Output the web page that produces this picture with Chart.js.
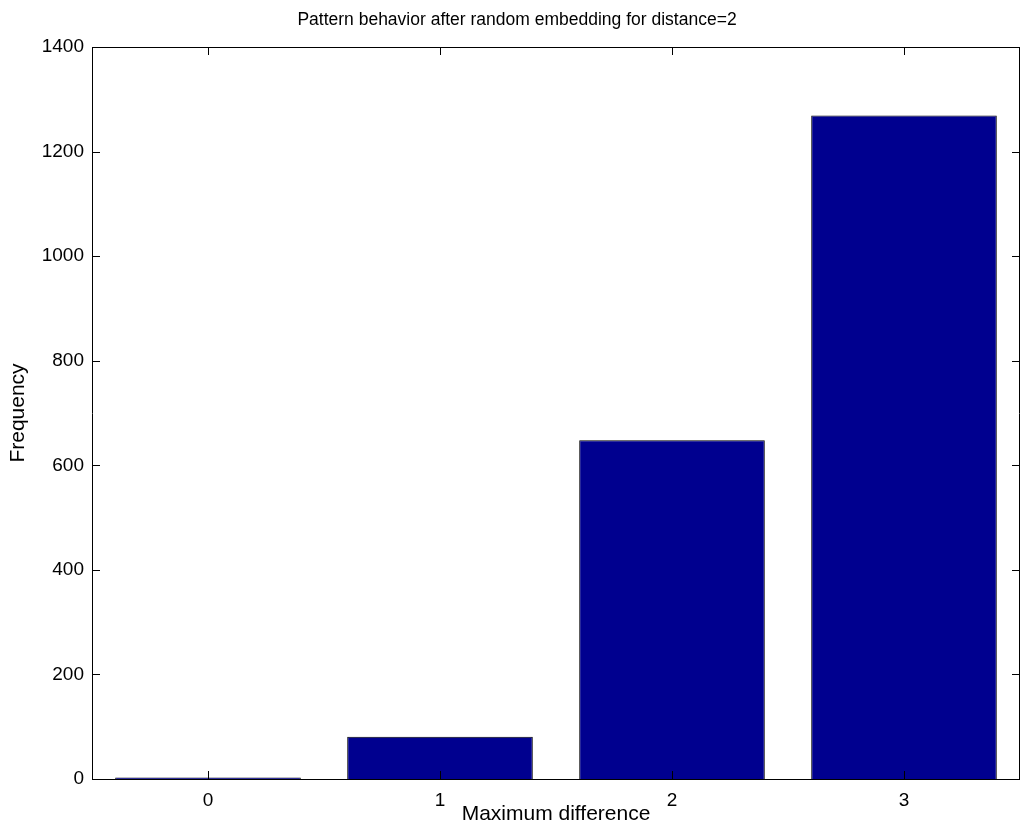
<!DOCTYPE html>
<html>
<head>
<meta charset="utf-8">
<script src="https://cdn.jsdelivr.net/npm/chart.js@4.4.1/dist/chart.umd.min.js"></script>
<style>
  body { margin: 0; background: #fff; }
  #wrap { width: 1030px; height: 840px; }
</style>
</head>
<body>
<div id="wrap"><canvas id="myChart" width="1030" height="840"></canvas></div>
<script>
// values
var categorias = ['0', '1', '2', '3']
var frequencias = [3, 81, 648, 1269]
var ticksY = [0, 200, 400, 600, 800, 1000, 1200, 1400]

var fonte = "'Liberation Sans', Arial, Helvetica, sans-serif"

// MATLAB style box with the tick marks pointing inwards
const caixa = {
    id: 'caixa',
    afterDraw(chart) {
        const ctx = chart.ctx
        const a = chart.chartArea
        const x = chart.scales.x
        const y = chart.scales.y
        const tam = 8
        ctx.save()
        ctx.strokeStyle = 'black'
        ctx.lineWidth = 1
        ctx.beginPath()
        ctx.rect(a.left + 0.5, a.top + 0.5, a.right - a.left - 1, a.bottom - a.top)
        for (var i = 0; i < categorias.length; i++) {
            var px = Math.round(x.getPixelForValue(i)) + 0.5
            ctx.moveTo(px, a.bottom)
            ctx.lineTo(px, a.bottom - tam)
            ctx.moveTo(px, a.top)
            ctx.lineTo(px, a.top + tam)
        }
        for (var j = 0; j < ticksY.length; j++) {
            var py = Math.round(y.getPixelForValue(ticksY[j])) + 0.5
            ctx.moveTo(a.left, py)
            ctx.lineTo(a.left + tam, py)
            ctx.moveTo(a.right, py)
            ctx.lineTo(a.right - tam, py)
        }
        ctx.stroke()
        ctx.restore()
    }
}

const ctx = document.getElementById('myChart');
new Chart(ctx, {
    type: 'bar',
    data: {
        labels: categorias,
        datasets: [{
            label: 'Frequency',
            backgroundColor: 'rgb(0,0,143)',
            borderColor: 'black',
            borderWidth: 1,
            data: frequencias,
            categoryPercentage: 0.8,
            barPercentage: 1
        }]
    },
    options: {
        responsive: false,
        animation: false,
        // left padding only moves the title centre to where the reference has it
        layout: { padding: { left: 14, right: 10, top: 0, bottom: 0 } },
        plugins: {
            legend: { display: false },
            tooltip: { enabled: false },
            title: {
                display: true,
                text: 'Pattern behavior after random embedding for distance=2',
                color: 'black',
                font: { family: fonte, size: 17.5, weight: 'normal' },
                padding: { top: 9.5, bottom: 16.5 }
            }
        },
        scales: {
            x: {
                grid: { display: false, drawTicks: false },
                border: { display: false },
                ticks: { color: 'black', font: { family: fonte, size: 19 }, padding: 10 },
                title: {
                    display: true,
                    text: 'Maximum difference',
                    color: 'black',
                    font: { family: fonte, size: 21 },
                    padding: { top: 0, bottom: 13 }
                },
                afterFit: function(s) { s.height = 61 }
            },
            y: {
                min: 0,
                max: 1400,
                grid: { display: false, drawTicks: false },
                border: { display: false },
                ticks: {
                    stepSize: 200,
                    color: 'black',
                    font: { family: fonte, size: 19 },
                    padding: 8,
                    callback: function(v) { return String(v) }
                },
                title: {
                    display: true,
                    text: 'Frequency',
                    color: 'black',
                    font: { family: fonte, size: 21 },
                    padding: { top: -8.5, bottom: 0 }
                },
                afterFit: function(s) { s.width = 78 }
            }
        }
    },
    plugins: [caixa]
})
</script>
</body>
</html>
